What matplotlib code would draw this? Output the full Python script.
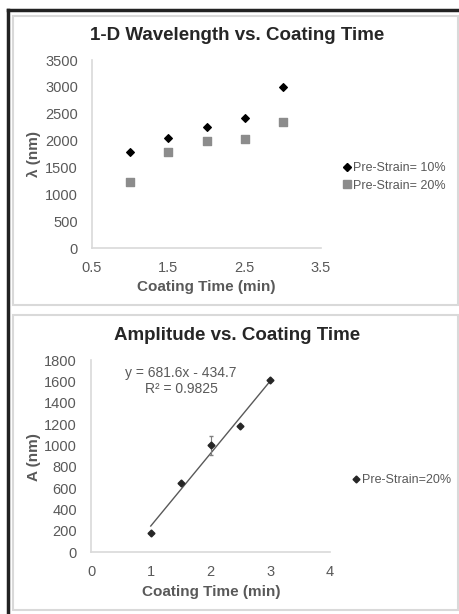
import numpy as np
import matplotlib
matplotlib.use('Agg')
import matplotlib.pyplot as plt
from matplotlib.patches import Rectangle
from matplotlib.lines import Line2D

plt.rcParams['font.family'] = ['Liberation Sans', 'DejaVu Sans']

# top chart: wavelength
t_wave = [1.0, 1.5, 2.0, 2.5, 3.0]
wave_10 = [1780, 2050, 2245, 2420, 2995]
wave_20 = [1230, 1785, 1985, 2030, 2340]

# bottom chart: amplitude
t_amp = [1.0, 1.5, 2.0, 2.5, 3.0]
amp_20 = [180, 645, 1000, 1180, 1612]
amp_err = [0, 0, 90, 0, 0]
fit_text = 'y = 681.6x - 434.7\nR² = 0.9825'

W, H = 459, 614
fig = plt.figure(figsize=(W / 100, H / 100), dpi=100)
fig.patch.set_facecolor('white')

grey = '#595959'
frame = '#d9d9d9'


def px(x0, y0, x1, y1):
    # pixel box (top-left origin) -> figure fraction rect
    return [x0 / W, 1 - y1 / H, (x1 - x0) / W, (y1 - y0) / H]


# outer black border (left and top) and the two panel frames
fig.add_artist(Line2D([7.5 / W, 7.5 / W], [0, 1 - 10 / H], color='#222222', lw=2.5))
fig.add_artist(Line2D([7.5 / W, 1], [1 - 10 / H, 1 - 10 / H], color='#222222', lw=2.5))
for y0, y1 in [(16, 305), (315, 610)]:
    r = px(13, y0, 458, y1)
    fig.add_artist(Rectangle((r[0], r[1]), r[2], r[3], transform=fig.transFigure,
                             fill=False, ec=frame, lw=1.5))


def style(ax):
    for s in ['top', 'right']:
        ax.spines[s].set_visible(False)
    for s in ['left', 'bottom']:
        ax.spines[s].set_color(frame)
        ax.spines[s].set_linewidth(1.2)
    ax.tick_params(length=0, colors=grey, labelsize=10.5, pad=10)
    ax.tick_params(axis='x', pad=9)
    ax.patch.set_alpha(0)


# ---- top ----
ax1 = fig.add_axes(px(92, 60, 321, 248))
ax1.scatter(t_wave, wave_10, marker='D', s=15, c='black', zorder=3)
ax1.scatter(t_wave, wave_20, marker='s', s=34, c='#8c8c8c', zorder=3)
ax1.set_xlim(0.5, 3.5)
ax1.set_ylim(0, 3500)
ax1.set_xticks(np.arange(0.5, 3.6, 1.0))
ax1.set_yticks(np.arange(0, 3501, 500))
style(ax1)
fig.text(237 / W, 1 - 35 / H, '1-D Wavelength vs. Coating Time', ha='center',
         va='center', fontsize=13.5, fontweight='bold', color='#262626')
fig.text(206 / W, 1 - 287 / H, 'Coating Time (min)', ha='center', va='center',
         fontsize=11, fontweight='bold', color=grey)
fig.text(34 / W, 1 - 154 / H, 'λ (nm)', ha='center', va='center', rotation=90,
         fontsize=11, fontweight='bold', color=grey)
h1 = [Line2D([], [], ls='none', marker='D', ms=4, color='black'),
      Line2D([], [], ls='none', marker='s', ms=5.5, color='#8c8c8c')]
fig.legend(handles=h1, labels=['Pre-Strain= 10%', 'Pre-Strain= 20%'],
           loc='center left', bbox_to_anchor=(338 / W, 1 - 177 / H),
           frameon=False, fontsize=9, handlelength=0.6, handletextpad=0.2,
           labelspacing=0.45, labelcolor=grey, borderaxespad=0)

# ---- bottom ----
ax2 = fig.add_axes(px(91, 360, 330, 552))
ax2.errorbar(t_amp, amp_20, yerr=amp_err, fmt='D', ms=3.5, color='#262626',
             ecolor='#7f7f7f', elinewidth=0.8, capsize=1.5, zorder=3)
k, b = np.polyfit(t_amp, amp_20, 1)
xs = np.array([t_amp[0], t_amp[-1]])
ax2.plot(xs, k * xs + b, color='#595959', lw=1.0, zorder=2)
ax2.set_xlim(0, 4)
ax2.set_ylim(0, 1800)
ax2.set_xticks(np.arange(0, 5, 1))
ax2.set_yticks(np.arange(0, 1801, 200))
style(ax2)
fig.text(181 / W, 1 - 381 / H, fit_text, ha='center', va='center',
         fontsize=10, color=grey, linespacing=1.2)
fig.text(237 / W, 1 - 336 / H, 'Amplitude vs. Coating Time', ha='center',
         va='center', fontsize=13.5, fontweight='bold', color='#262626')
fig.text(211 / W, 1 - 592 / H, 'Coating Time (min)', ha='center', va='center',
         fontsize=11, fontweight='bold', color=grey)
fig.text(34 / W, 1 - 457 / H, 'A (nm)', ha='center', va='center', rotation=90,
         fontsize=11, fontweight='bold', color=grey)
h2 = [Line2D([], [], ls='none', marker='D', ms=3.5, color='#262626')]
fig.legend(handles=h2, labels=['Pre-Strain=20%'], loc='center left',
           bbox_to_anchor=(347 / W, 1 - 480 / H), frameon=False, fontsize=9,
           handlelength=0.6, handletextpad=0.2, labelcolor=grey,
           borderaxespad=0)

fig.savefig('out.png', dpi=100)
